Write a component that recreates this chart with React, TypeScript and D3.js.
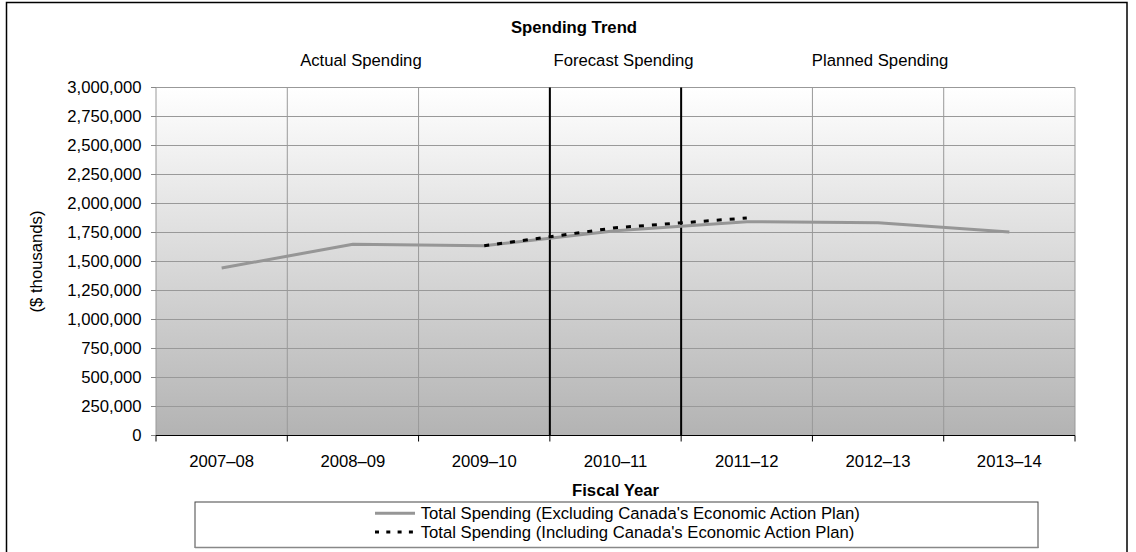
import React from "react";
import * as d3 from "d3";

const categories = ["2007–08", "2008–09", "2009–10", "2010–11", "2011–12", "2012–13", "2013–14"];
const excludingValues = [1444000, 1648000, 1636000, 1766000, 1843000, 1834000, 1754000];
const includingCategories = ["2009–10", "2010–11", "2011–12"];
const includingValues = [1636000, 1791000, 1875000];
const yTicks = [0, 250000, 500000, 750000, 1000000, 1250000, 1500000, 1750000, 2000000, 2250000, 2500000, 2750000, 3000000];
const periodLabels = ["Actual Spending", "Forecast Spending", "Planned Spending"];
const periodAnchors = ["2008–09", "2010–11", "2012–13"];
const periodDividers = [3, 4]; // boundary index (before category i)
const seriesNames = [
  "Total Spending (Excluding Canada's Economic Action Plan)",
  "Total Spending (Including Canada's Economic Action Plan)",
];

const W = 1136;
const H = 552;
const FONT = "'Liberation Sans', Arial, sans-serif";
const FS = 16.7;

export default function App() {
  const left = 156;
  const right = 1075;
  const top = 87.5;
  const bottom = 435.5;

  const x = d3.scaleBand<string>().domain(categories).range([left, right]).padding(0);
  const y = d3.scaleLinear().domain([0, 3000000]).range([bottom, top]);
  const cx = (c: string) => (x(c) ?? 0) + x.bandwidth() / 2;
  const fmt = d3.format(",");

  const line = d3
    .line<[string, number]>()
    .x((d) => cx(d[0]))
    .y((d) => y(d[1]));

  const solidPath = line(categories.map((c, i) => [c, excludingValues[i]] as [string, number])) || "";
  const dashedPath = line(includingCategories.map((c, i) => [c, includingValues[i]] as [string, number])) || "";

  const boundaries = categories.map((c) => x(c) ?? 0).concat([right]);
  const periodOffsets = [8, 8, 2];

  return (
    <svg
      width={W}
      height={H}
      style={{ position: "absolute", left: 0, top: 0, background: "#fff" }}
      fontFamily={FONT}
    >
      <defs>
        <linearGradient id="plotBg" x1="0" y1="0" x2="0" y2="1">
          <stop offset="0%" stopColor="#ffffff" />
          <stop offset="100%" stopColor="#b3b3b3" />
        </linearGradient>
      </defs>
      <rect x={6.5} y={2.5} width={1120.5} height={560} fill="#fff" stroke="#000" strokeWidth={1.5} />

      {/* plot background */}
      <rect x={left} y={top} width={right - left} height={bottom - top} fill="url(#plotBg)" />

      {/* horizontal gridlines */}
      {yTicks.map((t) => (
        <line key={"h" + t} x1={left} x2={right} y1={y(t)} y2={y(t)} stroke="#999" strokeWidth={1} />
      ))}
      {/* vertical gridlines */}
      {boundaries.map((b, i) => (
        <line key={"v" + i} x1={b} x2={b} y1={top} y2={bottom} stroke="#999" strokeWidth={1} />
      ))}

      {/* y ticks */}
      {yTicks.map((t) => (
        <g key={"yt" + t}>
          <line x1={left - 5} x2={left} y1={y(t)} y2={y(t)} stroke="#888" strokeWidth={1} />
          <text x={left - 14.5} y={y(t)} dy="0.35em" textAnchor="end" fontSize={FS} fill="#000">
            {fmt(t)}
          </text>
        </g>
      ))}

      {/* x axis */}
      <line x1={left} x2={right} y1={bottom} y2={bottom} stroke="#000" strokeWidth={1.2} />
      {boundaries.map((b, i) => (
        <line key={"xt" + i} x1={b} x2={b} y1={bottom} y2={bottom + 6} stroke="#000" strokeWidth={1} />
      ))}
      {categories.map((c) => (
        <text key={"xl" + c} x={cx(c)} y={467} textAnchor="middle" fontSize={FS} fill="#000">
          {c}
        </text>
      ))}

      {/* period dividers */}
      {periodDividers.map((i) => (
        <line key={"pd" + i} x1={boundaries[i]} x2={boundaries[i]} y1={top} y2={bottom} stroke="#000" strokeWidth={2} />
      ))}

      {/* series */}
      <path d={solidPath} fill="none" stroke="#969696" strokeWidth={3} strokeLinejoin="round" />
      <path d={dashedPath} fill="none" stroke="#000" strokeWidth={3} strokeDasharray="5 8" />

      {/* titles */}
      <text x={574} y={33} textAnchor="middle" fontSize={FS} fontWeight="bold" fill="#000">
        Spending Trend
      </text>
      {periodLabels.map((p, i) => (
        <text key={p} x={cx(periodAnchors[i]) + periodOffsets[i]} y={66} textAnchor="middle" fontSize={FS} fill="#000">
          {p}
        </text>
      ))}
      <text x={(left + right) / 2} y={496} textAnchor="middle" fontSize={FS} fontWeight="bold" fill="#000">
        Fiscal Year
      </text>
      <text transform={`translate(41.5, ${(top + bottom) / 2}) rotate(-90)`} textAnchor="middle" fontSize={FS} fill="#000">
        ($ thousands)
      </text>

      {/* legend */}
      <rect x={195} y={502} width={843} height={45.5} fill="#fff" stroke="#444" strokeWidth={1} />
      <line x1={195} x2={1038.5} y1={547.5} y2={547.5} stroke="#888" strokeWidth={1.5} />
      <line x1={375} x2={415} y1={513.3} y2={513.3} stroke="#969696" strokeWidth={3} />
      <line x1={375} x2={415} y1={532} y2={532} stroke="#000" strokeWidth={3} strokeDasharray="4 7.3" />
      <text x={420.7} y={519} fontSize={FS} fill="#000">
        {seriesNames[0]}
      </text>
      <text x={420.7} y={538} fontSize={FS} fill="#000">
        {seriesNames[1]}
      </text>
    </svg>
  );
}
